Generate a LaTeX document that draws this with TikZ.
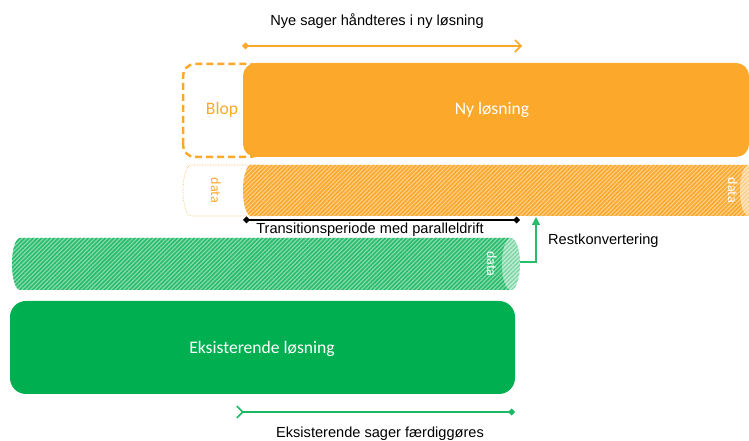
\documentclass[tikz,border=0pt]{standalone}
\usepackage{fontspec}
\setmainfont{Liberation Sans}
\newfontfamily\calib{Carlito}
\usetikzlibrary{arrows.meta,patterns.meta}
\definecolor{org}{RGB}{251,168,43}
\definecolor{grn}{RGB}{0,176,80}
\begin{document}
\begin{tikzpicture}[x=1pt,y=1pt,
  lbl/.style={font=\fontsize{14.6}{16}\selectfont, text=black, inner sep=0pt},
  boxtxt/.style={font=\calib\fontsize{17.6}{19}\selectfont, inner sep=0pt},
  datatxt/.style={font=\calib\fontsize{14}{16}\selectfont, rotate=-90, inner sep=0pt},
  hatchO/.style={fill=org!55!white, postaction={pattern={Lines[angle=45,distance=3pt,line width=1.6pt]}, pattern color=org}},
  hatchG/.style={fill=grn!45!white, postaction={pattern={Lines[angle=45,distance=3pt,line width=1.6pt]}, pattern color=grn!85!white}},
  faceO/.style={fill=org!30!white, postaction={pattern={Lines[angle=45,distance=3pt,line width=1.2pt]}, pattern color=org!60!white}},
  faceG/.style={fill=grn!25!white, postaction={pattern={Lines[angle=45,distance=3pt,line width=1.2pt]}, pattern color=grn!55!white}},
  conn/.style={line width=1.6pt}
]
\useasboundingbox (0,0) rectangle (749,441);
\clip (0,0) rectangle (749,441);

% top label and arrow
\node[lbl] (toplbl) at (377,420) {Nye sager håndteres i ny løsning};
\coordinate (ta) at (242,395);
\coordinate (tb) at (522,395);
\draw[conn, org, {Diamond[length=7pt,width=7pt]}-{Straight Barb[length=6pt,width=12pt,line width=1.6pt]}] (ta) -- (tb);

% Blop dashed box
\draw[org, line width=2.5pt, dash pattern=on 7pt off 4pt, rounded corners=12pt] (183,284) rectangle (262,377);
\node[boxtxt, text=org] (blop) at (222,331) {Blop};

% Ny loesning box
\fill[org, rounded corners=13pt] (243,284) rectangle (749,378);
\node[boxtxt, text=white] (ny) at (492,331) {Ny løsning};

% orange cylinder
\draw[org!80!white, densely dotted, line width=0.6pt, fill=white] (262,276) -- (191,276) arc(90:270:8 and 25.5) -- (262,225);
\path[hatchO] (760,276) -- (251,276) arc(90:270:8 and 25.5) -- (760,225) -- cycle;
\path[faceO] (749,250.5) ellipse (9 and 25.5);
\node[datatxt, text=org] (d1) at (216,250.5) {data};
\node[datatxt, text=white] (d2) at (733,250.5) {data};

% transition line
\coordinate (la) at (243,221);
\coordinate (lb) at (520,221);
\draw[line width=1.4pt, black, {Diamond[length=7pt,width=7pt]}-{Diamond[length=7pt,width=7pt]}] (la) -- (lb);
\node[lbl] (trans) at (370,211) {Transitionsperiode med paralleldrift};

% green cylinder
\path[hatchG] (511,203) -- (20,203) arc(90:270:8 and 26) -- (511,151) -- cycle;
\path[faceG] (511,177) ellipse (9 and 26);
\node[datatxt, text=white] (d3) at (492,177) {data};

% restkonvertering
\coordinate (ra) at (520,179);
\coordinate (rb) at (536,224);
\draw[line width=1.4pt, grn!85!white, -{Triangle[length=8pt,width=8pt]}] (ra) -| (rb);
\node[lbl, anchor=west] (rest) at (548,200) {Restkonvertering};

% Eksisterende loesning box
\fill[grn, rounded corners=16pt] (10,47) rectangle (515,140);
\node[boxtxt, text=white] (eks) at (262,92) {Eksisterende løsning};

% bottom arrow and label
\coordinate (ba) at (236,29);
\coordinate (bb) at (515,29);
\draw[conn, grn!90!white, {Straight Barb[reversed,length=6pt,width=12pt,line width=1.6pt]}-{Diamond[length=7pt,width=7pt]}] (ba) -- (bb);
\node[lbl] (botlbl) at (380,7) {Eksisterende sager færdiggøres};
\end{tikzpicture}
\end{document}
